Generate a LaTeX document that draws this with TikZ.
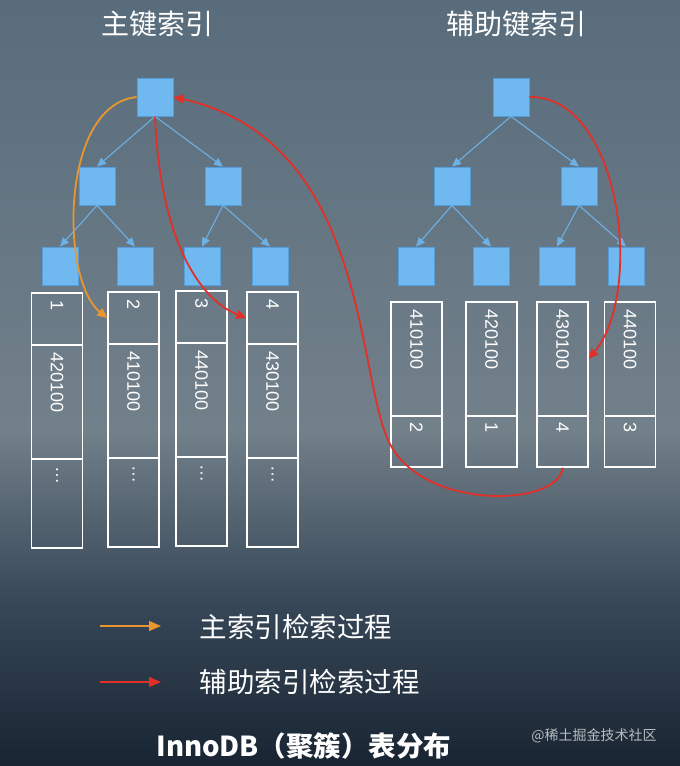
\documentclass[tikz,border=0pt]{standalone}
\usepackage{fontspec}
\setmainfont{Liberation Sans}
\newfontfamily\cjk{Noto Sans CJK SC}
\usetikzlibrary{arrows.meta}
\definecolor{bgtop}{RGB}{88,108,124}
\definecolor{bgmid}{RGB}{114,128,138}
\definecolor{bgdark}{RGB}{56,72,88}
\definecolor{bgbot}{RGB}{24,36,50}
\definecolor{keyblue}{RGB}{112,184,240}
\definecolor{keyedge}{RGB}{84,158,222}
\definecolor{linkblue}{RGB}{108,176,228}
\definecolor{primorange}{RGB}{232,150,48}
\definecolor{secred}{RGB}{226,48,40}

\tikzset{
  key/.style={draw=keyedge,fill=keyblue,line width=0.8pt,minimum width=36pt,minimum height=38pt,inner sep=0pt},
  link/.style={linkblue,line width=1.1pt,-{Triangle[length=9pt,width=8pt]}},
  cell/.style={draw=white,line width=1.3pt,minimum width=51pt,inner sep=0pt},
  val/.style={white,font=\fontsize{18}{18}\selectfont,rotate=-90,anchor=west,inner sep=0pt},
  title/.style={white,font=\cjk\fontsize{28}{28}\selectfont},
  legend/.style={white,font=\cjk\fontsize{27.5}{28}\selectfont,anchor=west},
  route/.style={line width=1.8pt,-{Triangle[length=10pt,width=9pt]}},
  sample/.style={line width=1.6pt,-{Triangle[length=12pt,width=10pt]}},
}

\begin{document}
\begin{tikzpicture}[x=1pt,y=-1pt]
  \useasboundingbox (0,0) rectangle (680,766);
  % background
  \shade[top color=bgtop,bottom color=bgmid] (0,0) rectangle (680,430);
  \shade[top color=bgmid,bottom color=bgdark] (0,430) rectangle (680,600);
  \shade[top color=bgdark,bottom color=bgbot] (0,600) rectangle (680,766);

  \node[title] (ptitle) at (157,24) {主键索引};
  \node[title] (stitle) at (516,24) {辅助键索引};

  % primary key tree
  \node[key] (proot) at (155,97) {};
  \node[key] (pleft) at (97,186) {};
  \node[key] (pright) at (223,186) {};
  \foreach \k/\x in {1/60,2/135,3/202,4/270}
    \node[key] (pleaf\k) at (\x,266) {};
  \draw[link] (proot.south) -- (pleft.north);
  \draw[link] (proot.south) -- (pright.north);
  \draw[link] (pleft.south) -- (pleaf1.north);
  \draw[link] (pleft.south) -- (pleaf2.north);
  \draw[link] (pright.south) -- (pleaf3.north);
  \draw[link] (pright.south) -- (pleaf4.north);

  % secondary key tree
  \node[key] (sroot) at (511,97) {};
  \node[key] (sleft) at (452,186) {};
  \node[key] (sright) at (579,186) {};
  \foreach \k/\x in {1/416,2/491,3/557,4/626}
    \node[key] (sleaf\k) at (\x,266) {};
  \draw[link] (sroot.south) -- (sleft.north);
  \draw[link] (sroot.south) -- (sright.north);
  \draw[link] (sleft.south) -- (sleaf1.north);
  \draw[link] (sleft.south) -- (sleaf2.north);
  \draw[link] (sright.south) -- (sleaf3.north);
  \draw[link] (sright.south) -- (sleaf4.north);

  % clustered rows
  \foreach \c/\x/\dy/\k/\v in {1/57/1/1/420100,2/133.5/0/2/410100,3/201.5/-1/3/440100,4/272.5/0/4/430100} {
    \node[cell,minimum height=52pt] (pkey\c) at (\x,{318+\dy}) {};
    \node[cell,minimum height=114pt] (pval\c) at (\x,{401+\dy}) {};
    \node[cell,minimum height=89pt] (pmore\c) at (\x,{502.5+\dy}) {};
    \node[val] (lk\c) at ([yshift=-8pt]pkey\c.north) {\k};
    \node[val] (lv\c) at ([yshift=-8pt]pval\c.north) {\v};
    \node[val] (lm\c) at ([yshift=-8pt]pmore\c.north) {\dots};
  }

  % secondary rows
  \foreach \c/\x/\v/\k in {1/416.5/410100/2,2/491.5/420100/1,3/562.5/430100/4,4/630/440100/3} {
    \node[cell,minimum height=114pt] (sval\c) at (\x,359) {};
    \node[cell,minimum height=51pt] (sptr\c) at (\x,441.5) {};
    \node[val] (ls\c) at ([yshift=-8pt]sval\c.north) {\v};
    \node[val] (lp\c) at ([yshift=-7pt]sptr\c.north) {\k};
  }

  % lookup paths
  \draw[route,primorange] (proot.west) .. controls (60,105) and (60,280) .. (pkey2.west);
  \draw[route,secred] (proot.south) .. controls (160,240) and (200,300) .. (pkey4.west);
  \draw[route,secred] (sroot.east) .. controls (620,95) and (645,290) .. (sval3.east);
  \coordinate (turn) at (388,440);
  \draw[route,secred] (sptr3.south) .. controls (560,507) and (420,512) .. (turn)
    .. controls (356,368) and (366,140) .. (proot.east);

  % legend
  \coordinate (oa) at (100,626);
  \coordinate (ob) at (161,626);
  \coordinate (ra) at (100,682);
  \coordinate (rb) at (161,682);
  \draw[sample,primorange] (oa) -- (ob);
  \draw[sample,secred] (ra) -- (rb);
  \node[legend] (lgo) at (196,627) {主索引检索过程};
  \node[legend] (lgr) at (196,682) {辅助索引检索过程};

  \node[white,font=\cjk\bfseries\fontsize{27.5}{28}\selectfont] (caption) at (304,746) {InnoDB（聚簇）表分布};
  \node[white!75!gray,opacity=0.8,font=\cjk\fontsize{14}{14}\selectfont] (mark) at (594,736) {@稀土掘金技术社区};
\end{tikzpicture}
\end{document}
